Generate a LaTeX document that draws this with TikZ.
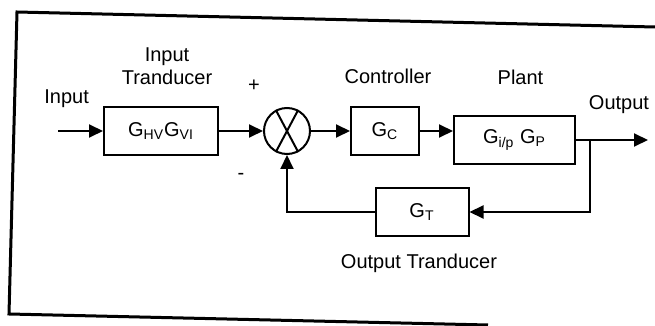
\documentclass[tikz,border=0pt]{standalone}
\usepackage{fontspec}
\setmainfont{Liberation Sans}
\usepackage{tikz}
\usetikzlibrary{positioning,arrows.meta}
\newcommand{\gsub}[1]{\textsubscript{#1}}
\tikzset{
  blk/.style={draw,line width=1pt,minimum height=24pt,inner sep=2pt,
              font=\fontsize{10}{12}\selectfont},
  sumj/.style={draw,circle,line width=1pt,minimum size=23pt,inner sep=0pt},
  lbl/.style={inner sep=0pt,align=center,font=\fontsize{10}{11.5}\selectfont},
  arr/.style={-{Triangle[length=7pt,width=6.5pt]},line width=1pt},
  ln/.style={line width=1pt},
  frm/.style={line width=1.5pt}
}

\begin{document}
\begin{tikzpicture}[x=0.5pt,y=-0.5pt]
  \useasboundingbox (0,0) rectangle (655,326);
  % open frame round the diagram
  \draw[frm] (655,27) -- (17,12) -- (9,314) -- (488,325);

  \node[blk,minimum width=57pt] (hv) at (161,131) {G\gsub{HV}G\gsub{VI}};
  \coordinate[left=22.5pt of hv] (in);
  \node[sumj,right=22pt of hv] (sum) {};
  \node[blk,minimum width=34pt,right=19.5pt of sum] (gc) {G\gsub{C}};
  \node[blk,minimum width=60.5pt,right=16.5pt of gc,yshift=-4.5pt] (plant) {G\gsub{i/p} G\gsub{P}};
  \coordinate[right=7pt of plant] (split);
  \coordinate[right=36pt of plant] (out);
  \node[blk,minimum width=46.5pt,below=15.5pt of gc,xshift=18.5pt] (gt) {G\gsub{T}};

  \node[lbl,above right=11.5pt and -7pt of in] (inlbl) {Input};
  \node[lbl,above=10.5pt of hv,xshift=3pt] (hvlbl) {Input\\Tranducer};
  \node[lbl,above=11pt of gc,xshift=1.5pt] (gclbl) {Controller};
  \node[lbl,above=15pt of plant,xshift=3pt] (plantlbl) {Plant};
  \node[lbl] (plus) at ([shift={(-16.5pt,22.5pt)}]sum.center) {+};
  \node[lbl] (minus) at ([shift={(-23pt,-22.5pt)}]sum.center) {-};
  \node[lbl] (outlbl) at ([shift={(-14.5pt,17.5pt)}]out) {Output};
  \node[lbl,below=8.5pt of gt,xshift=-1.5pt] (gtlbl) {Output Tranducer};

  \draw[ln] (sum.118) -- (sum.-62) (sum.62) -- (sum.-118);
  \draw[arr] (in) -- (hv);
  \draw[arr] (hv) -- (sum);
  \draw[arr] (sum) -- (gc);
  \draw[arr] (gc) -- (gc -| plant.west);
  \draw[arr] (plant) -- (out);
  \draw[arr] (split) |- (gt);
  \draw[arr] (gt) -| (sum);
\end{tikzpicture}
\end{document}
